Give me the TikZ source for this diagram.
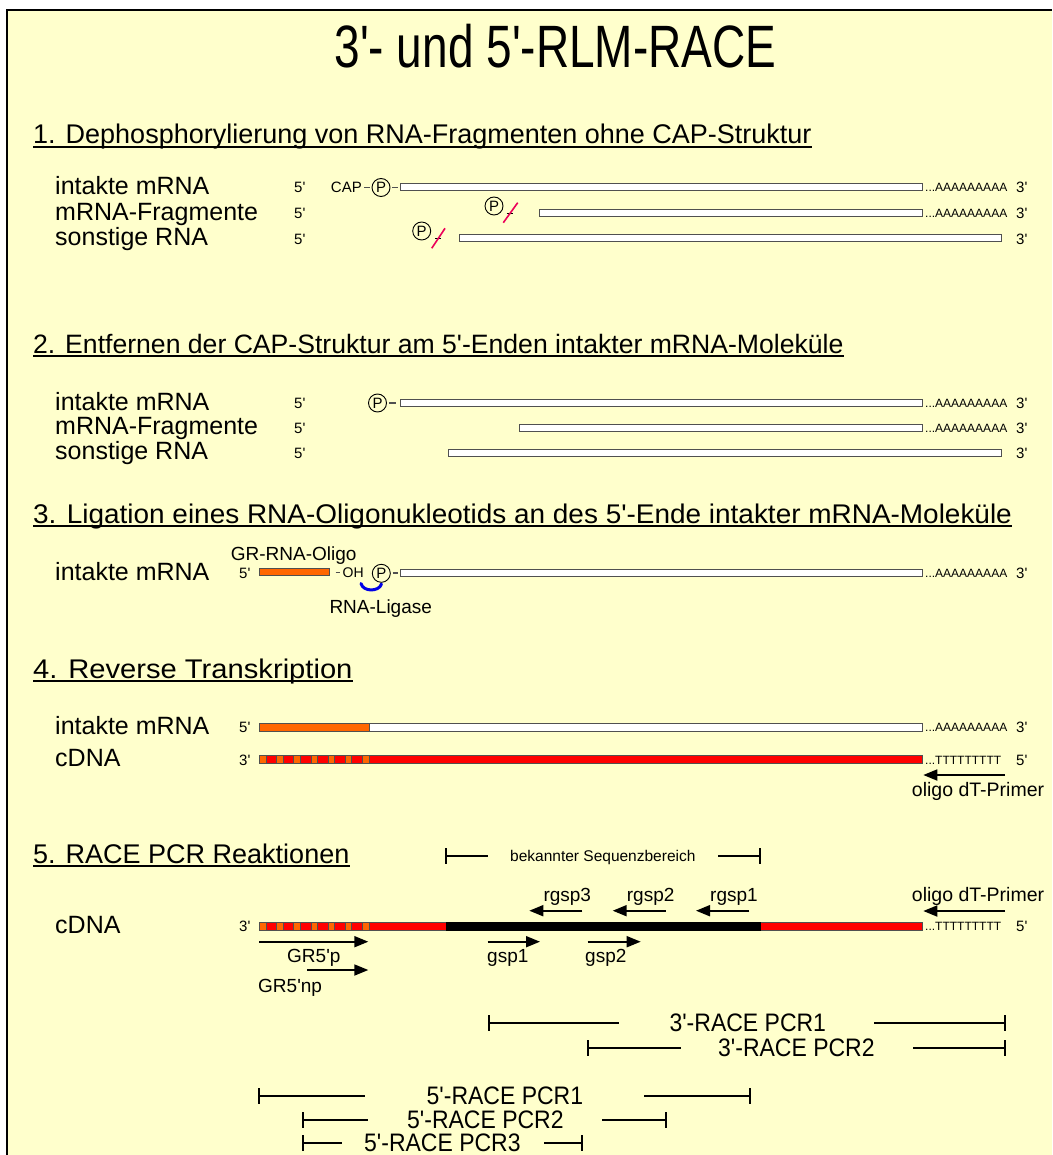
\documentclass[tikz,border=0pt]{standalone}
\usepackage{fontspec}
\setmainfont{Liberation Sans}[Ligatures=TeXOff]
\usetikzlibrary{arrows.meta}
\definecolor{bgc}{RGB}{255,255,204}
\definecolor{orng}{RGB}{255,102,0}
\definecolor{rnared}{RGB}{255,0,0}
\definecolor{slashc}{RGB}{235,0,90}
\definecolor{ligblue}{RGB}{0,0,230}
\definecolor{barline}{RGB}{80,80,80}
\newcommand{\fs}[1]{\fontsize{#1}{#1}\selectfont}
% #1 left tick, #2 end of left line, #3 start of right line, #4 right tick,
% #5 label, #6 y, #7 node name, #8 label centre x
\newcommand{\pcrrange}[8]{%
  \draw[spanline] (#1,#6-8) -- (#1,#6+8);
  \draw[spanline] (#1,#6) -- (#2,#6);
  \node[pcrlbl] (#7) at (#8,#6+8.8) {\scalebox{1}[1.1]{#5}};
  \draw[spanline] (#3,#6) -- (#4,#6);
  \draw[spanline] (#4,#6-8) -- (#4,#6+8);}
\begin{document}
\begin{tikzpicture}[x=1pt,y=-1pt,
  txtlbl/.style={inner sep=0pt, anchor=base west},
  headlbl/.style={txtlbl, font=\fs{27}},
  rowlbl/.style={txtlbl, font=\fs{25}},
  endlbl/.style={txtlbl, font=\fs{15}},
  taillbl/.style={txtlbl, font=\fs{12}},
  midlbl/.style={txtlbl, font=\fs{19}},
  pcrlbl/.style={inner sep=0pt, anchor=base, font=\fs{23}},
  uline/.style={line width=2pt},
  whitebar/.style={draw=barline, line width=1pt, fill=white},
  obar/.style={draw=barline, line width=1pt, fill=orng},
  rbar/.style={draw=barline, line width=1pt, fill=rnared},
  kbar/.style={draw=black, line width=1pt, fill=black},
  sqbox/.style={draw=barline, line width=0.7pt, fill=orng},
  pcirc/.style={circle, draw, line width=0.9pt, inner sep=0pt, minimum size=18pt, font=\fs{15}},
  dashl/.style={draw=barline, line width=1.2pt},
  redslash/.style={draw=slashc, line width=1.6pt},
  primer/.style={line width=1.8pt, -{Triangle[length=14pt,width=11pt]}},
  spanline/.style={line width=1.3pt},
]
\useasboundingbox (0,0) rectangle (1052,1155);
\fill[white] (0,0) rectangle (1052,1155);
\fill[bgc] (7,10) rectangle (1052,1155);
\draw[line width=2pt] (7,1155) -- (7,10) -- (1052,10);

% title
\node[inner sep=0pt, anchor=base, font=\fs{46}] (title) at (555.5,68) {\scalebox{1}[1.3]{3'- und 5'-RLM-RACE}};

% ---------------- section 1
\node[headlbl] (h1) at (33,144) {1. Dephosphorylierung von RNA-Fragmenten ohne CAP-Struktur};
\draw[uline] ([yshift=-3pt]h1.base west) -- ([yshift=-3pt]h1.base east);
\node[rowlbl] (l1a) at (55,195) {intakte mRNA};
\node[rowlbl] (l1b) at (55,221) {mRNA-Fragmente};
\node[rowlbl] (l1c) at (55,246) {sonstige RNA};
\node[endlbl] (f1a) at (294,193) {5'};
\node[endlbl] (f1b) at (294,219) {5'};
\node[endlbl] (f1c) at (294,244.5) {5'};
\node[inner sep=0pt, anchor=base east, font=\fs{15}] (cap1) at (362,193) {CAP};
\node[pcirc] (p1a) at (381,187.5) {P};
\node[pcirc] (p1b) at (494,206) {P};
\node[pcirc] (p1c) at (421.7,231) {P};
\draw[dashl] (364,187.5) -- (370,187.5);
\draw[dashl] (392,187.5) -- (398,187.5);
\draw[whitebar] (400,184) rectangle (922.5,191);
\draw[whitebar] (539,210) rectangle (922.5,217);
\draw[whitebar] (459,235) rectangle (1001.5,242);
\draw[dashl,draw=black] (506.7,213.3) -- (512.7,213.3);
\draw[dashl,draw=black] (435,238.3) -- (440.7,238.3);
\draw[redslash] (503.3,222.7) -- (517.7,202.7);
\draw[redslash] (431.7,248.3) -- (445,228.3);
\node[taillbl] (t1a) at (925,192) {...AAAAAAAAA};
\node[taillbl] (t1b) at (925,218) {...AAAAAAAAA};
\node[endlbl] (e1a) at (1016,193) {3'};
\node[endlbl] (e1b) at (1016,219) {3'};
\node[endlbl] (e1c) at (1016,244.5) {3'};

% ---------------- section 2
\node[headlbl, font=\fs{26.6}] (h2) at (33,353) {2. Entfernen der CAP-Struktur am 5'-Enden intakter mRNA-Moleküle};
\draw[uline] ([yshift=-3pt]h2.base west) -- ([yshift=-3pt]h2.base east);
\node[rowlbl] (l2a) at (55,410) {intakte mRNA};
\node[rowlbl] (l2b) at (55,434.5) {mRNA-Fragmente};
\node[rowlbl] (l2c) at (55,459.5) {sonstige RNA};
\node[endlbl] (f2a) at (294,408.5) {5'};
\node[endlbl] (f2b) at (294,433) {5'};
\node[endlbl] (f2c) at (294,458) {5'};
\node[pcirc] (p2a) at (377.5,403) {P};
\draw[dashl] (389,403) -- (396,403);
\draw[whitebar] (400,399.5) rectangle (922.5,406.5);
\draw[whitebar] (519,424) rectangle (922.5,431);
\draw[whitebar] (448,449) rectangle (1001.5,456);
\node[taillbl] (t2a) at (925,407.5) {...AAAAAAAAA};
\node[taillbl] (t2b) at (925,432) {...AAAAAAAAA};
\node[endlbl] (e2a) at (1016,408.5) {3'};
\node[endlbl] (e2b) at (1016,433) {3'};
\node[endlbl] (e2c) at (1016,458) {3'};

% ---------------- section 3
\node[headlbl] (h3) at (33,523) {\scalebox{1.035}[1]{3. Ligation eines RNA-Oligonukleotids an des 5'-Ende intakter mRNA-Moleküle}};
\draw[uline] ([yshift=-3pt]h3.base west) -- ([yshift=-3pt]h3.base east);
\node[rowlbl] (l3a) at (55,580) {intakte mRNA};
\node[midlbl] (oligo) at (230.7,560.5) {GR-RNA-Oligo};
\node[endlbl] (f3a) at (239,578) {5'};
\draw[obar] (259.3,568.5) rectangle (329.3,575.7);
\draw[dashl] (335.5,572.5) -- (340,572.5);
\node[txtlbl, font=\fs{14}] (oh) at (342.5,577.5) {OH};
\node[pcirc] (p3a) at (381.3,573.3) {P};
\draw[dashl] (392.7,573) -- (397.5,573);
\draw[whitebar] (400,569) rectangle (922.5,576);
\draw[ligblue, line width=3pt, line cap=round] (361,583.5) .. controls (363,592) and (379,592) .. (381.5,584);
\node[midlbl] (lig) at (329.3,613.5) {RNA-Ligase};
\node[taillbl] (t3a) at (925,577) {...AAAAAAAAA};
\node[endlbl] (e3a) at (1016,578) {3'};

% ---------------- section 4
\node[headlbl] (h4) at (33,678) {\scalebox{1.08}[1]{4. Reverse Transkription}};
\draw[uline] ([yshift=-3pt]h4.base west) -- ([yshift=-3pt]h4.base east);
\node[rowlbl] (l4a) at (55,734) {intakte mRNA};
\node[rowlbl] (l4b) at (55,766.5) {cDNA};
\node[endlbl] (f4a) at (239,732.5) {5'};
\node[endlbl] (f4b) at (239,765) {3'};
\draw[whitebar] (369.3,723.3) rectangle (922.5,731);
\draw[obar] (259.3,723.3) rectangle (369.3,731);
\draw[rbar] (259.3,755.7) rectangle (922.5,763.3);
\foreach \k in {0,...,6} \draw[sqbox] ({259.6+\k*17.1},755.7) rectangle ++(6.7,7.6);
\node[taillbl] (t4a) at (925,731.5) {...AAAAAAAAA};
\node[taillbl] (t4b) at (925,764) {...TTTTTTTTT};
\node[endlbl] (e4a) at (1016,732.5) {3'};
\node[endlbl] (e4b) at (1016,765) {5'};
\coordinate (dt4s) at (1005,775);
\coordinate (dt4e) at (923.3,775);
\draw[primer] (dt4s) -- (dt4e);
\node[txtlbl, font=\fs{19.5}] (dtlbl4) at (911.7,796) {oligo dT-Primer};

% ---------------- section 5
\node[headlbl] (h5) at (33,863) {5. RACE PCR Reaktionen};
\draw[uline] ([yshift=-3pt]h5.base west) -- ([yshift=-3pt]h5.base east);
\node[txtlbl, font=\fs{15.5}] (known) at (510,861.3) {bekannter Sequenzbereich};
\coordinate (kl) at (446,856);
\coordinate (kr) at (760,856);
\draw[spanline] (446,848) -- (446,864);
\draw[spanline] (kl) -- (488,856);
\draw[spanline] (718,856) -- (kr);
\draw[spanline] (760,848) -- (760,864);
\node[midlbl] (rg3) at (543.3,901.8) {rgsp3};
\node[midlbl] (rg2) at (626.7,901.8) {rgsp2};
\node[midlbl] (rg1) at (710,901.8) {rgsp1};
\node[txtlbl, font=\fs{19.5}] (dtlbl5) at (911.7,901.8) {oligo dT-Primer};
\coordinate (r3s) at (582.3,910.7); \coordinate (r3e) at (529.3,910.7);
\coordinate (r2s) at (665.7,910.7); \coordinate (r2e) at (612.7,910.7);
\coordinate (r1s) at (749.3,910.7); \coordinate (r1e) at (696,910.7);
\coordinate (dt5s) at (1005,911); \coordinate (dt5e) at (923.3,911);
\draw[primer] (r3s) -- (r3e);
\draw[primer] (r2s) -- (r2e);
\draw[primer] (r1s) -- (r1e);
\draw[primer] (dt5s) -- (dt5e);
\node[rowlbl] (l5a) at (55,933) {cDNA};
\node[endlbl] (f5a) at (239,931.5) {3'};
\draw[rbar] (259.3,922) rectangle (922.5,930);
\draw[kbar] (446,922) rectangle (760,930);
\foreach \k in {0,...,6} \draw[sqbox] ({259.6+\k*17.1},922) rectangle ++(6.7,8);
\node[taillbl] (t5a) at (925,930.5) {...TTTTTTTTT};
\node[endlbl] (e5a) at (1016,931.5) {5'};
\coordinate (gps) at (259.3,941.7); \coordinate (gpe) at (368.3,941.7);
\coordinate (gnps) at (307,970); \coordinate (gnpe) at (368.3,970);
\coordinate (g1s) at (487.7,941.7); \coordinate (g1e) at (540,941.7);
\coordinate (g2s) at (587.7,941.7); \coordinate (g2e) at (640.7,941.7);
\draw[primer] (gps) -- (gpe);
\draw[primer] (gnps) -- (gnpe);
\draw[primer] (g1s) -- (g1e);
\draw[primer] (g2s) -- (g2e);
\node[midlbl] (gr5p) at (287,962) {GR5'p};
\node[midlbl] (gr5np) at (258,992) {GR5'np};
\node[midlbl] (gsp1) at (487,962) {gsp1};
\node[midlbl] (gsp2) at (585,962) {gsp2};

\pcrrange{489}{619}{874}{1005}{3'-RACE PCR1}{1023}{p3a1}{747.8}
\pcrrange{588}{681}{913}{1005}{3'-RACE PCR2}{1048}{p3a2}{796.4}
\pcrrange{259}{365}{644}{750}{5'-RACE PCR1}{1096}{p5a1}{504.9}
\pcrrange{303}{368}{602}{666}{5'-RACE PCR2}{1120}{p5a2}{485.4}
\pcrrange{303}{342}{544}{582}{5'-RACE PCR3}{1143}{p5a3}{442.4}
\end{tikzpicture}
\end{document}
